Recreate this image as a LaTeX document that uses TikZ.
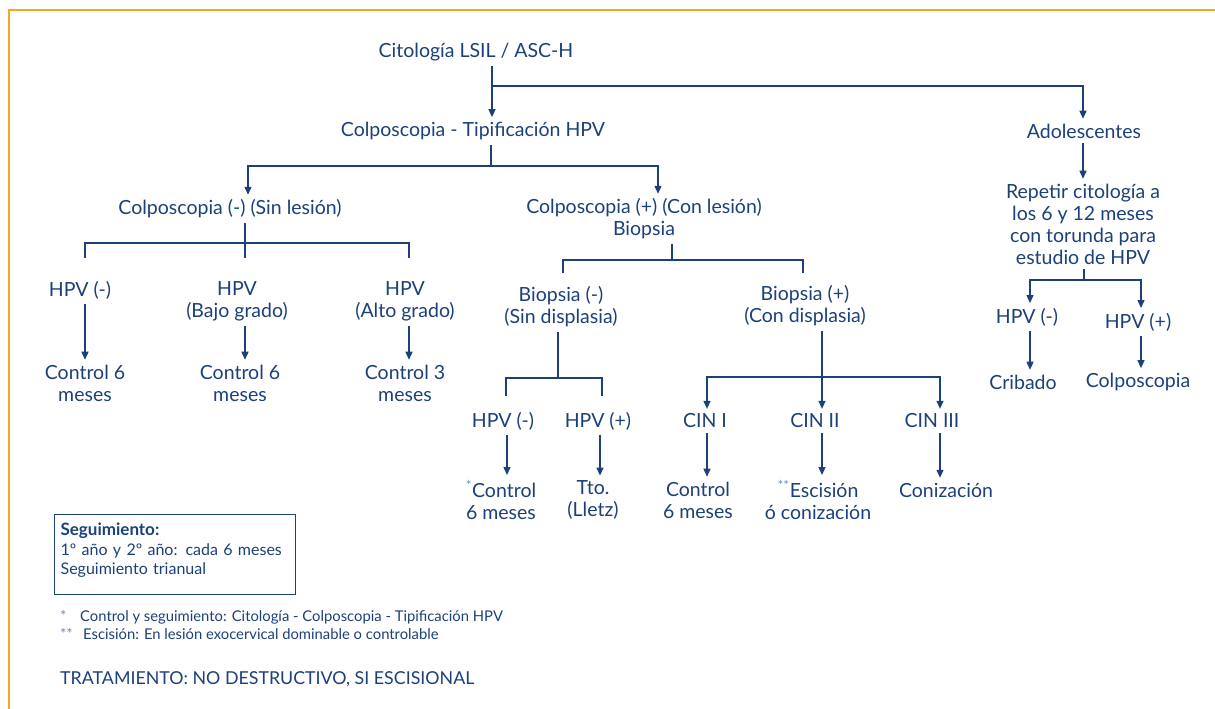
\documentclass[tikz,border=0pt]{standalone}
\usepackage{fontspec}
\setmainfont{Lato}
\usetikzlibrary{arrows.meta}
\definecolor{navy}{RGB}{28,64,122}
\definecolor{starblue}{RGB}{105,140,198}
\definecolor{frameorange}{RGB}{246,164,42}
\newcommand{\mainsz}{\fontsize{19.5}{22}\selectfont}
\newcommand{\boxsz}{\fontsize{16}{19.5}\selectfont}
\newcommand{\notesz}{\fontsize{14.8}{17}\selectfont}
\newcommand{\tratsz}{\fontsize{17.8}{20}\selectfont}
\newcommand{\starmark}[1]{\textsuperscript{\textcolor{starblue}{#1}}}
\begin{document}
\begin{tikzpicture}[x=1pt,y=-1pt,
  txt/.style={font=\mainsz, text=navy, align=center, inner sep=0pt, outer ysep=5pt},
  ln/.style={draw=navy, line width=1.3pt},
  arr/.style={ln, -{Triangle[length=8pt,width=7pt]}}]
\useasboundingbox (0,0) rectangle (1215,709);
% orange frame
\draw[frameorange, line width=1.6pt] (1215,10) -- (9,10) -- (9,709);

% nodes
\node[txt] (cito)  at (476,52)  {Citología LSIL / ASC-H};
\node[txt] (colpo) at (473,131) {Colposcopia - Tipificación HPV};
\node[txt] (adol)  at (1084,131) {Adolescentes};
\node[txt] (cneg)  at (230,209) {Colposcopia (-) (Sin lesión)};
\node[txt] (cpos)  at (644,219) {Colposcopia (+) (Con lesión)\\Biopsia};
\node[txt] (hneg)  at (80,290)  {HPV (-)};
\node[txt] (hbajo) at (237,301) {HPV\\(Bajo grado)};
\node[txt] (halto) at (405,301) {HPV\\(Alto grado)};
\node[txt] (ctl1)  at (85,383)  {Control 6\\meses};
\node[txt] (ctl2)  at (240,383) {Control 6\\meses};
\node[txt] (ctl3)  at (405,383) {Control 3\\meses};
\node[txt] (bneg)  at (561,307) {Biopsia (-)\\(Sin displasia)};
\node[txt] (bpos)  at (805,306) {Biopsia (+)\\(Con displasia)};
\node[txt] (h2neg) at (503,421) {HPV (-)};
\node[txt] (h2pos) at (598,421) {HPV (+)};
\node[txt] (cin1)  at (705,421) {CIN I};
\node[txt] (cin2)  at (815,421) {CIN II};
\node[txt] (cin3)  at (932,421) {CIN III};
\node[txt] (r1)    at (501,500) {\starmark{*}Control\\6 meses};
\node[txt] (r2)    at (593,500) {Tto.\\(Lletz)};
\node[txt] (r3)    at (698,500) {Control\\6 meses};
\node[txt] (r4)    at (818,500) {\starmark{**}Escisión\\ó conización};
\node[txt] (r5)    at (946,490) {Conización};
\node[txt] (rep)   at (1083,224) {Repetir citología a\\los 6 y 12 meses\\con torunda para\\estudio de HPV};
\node[txt] (ahneg) at (1027,317) {HPV (-)};
\node[txt] (ahpos) at (1138,322) {HPV (+)};
\node[txt] (crib)  at (1023,382) {Cribado};
\node[txt] (acolp) at (1138,382) {Colposcopia};

% column positions of the vertical connectors
\coordinate (x85)  at (85,0);
\coordinate (x248) at (248,0);
\coordinate (x409) at (409,0);
\coordinate (x507) at (507,0);
\coordinate (x600) at (600,0);
\coordinate (x658) at (658,0);
\coordinate (x707) at (707,0);
\coordinate (x940) at (940,0);
\coordinate (x1030) at (1030,0);
\coordinate (x1083) at (1083,0);
\coordinate (x1141) at (1141,0);

% junctions
\coordinate (j0) at (492,86);
\coordinate (j1) at (491,166);
\coordinate (j2) at (245,243);
\coordinate (j3) at (672,260);
\coordinate (j4) at (558,378);
\coordinate (j5) at (822,377);
\coordinate (j6) at (1084,280);
% open ends of the tee brackets
\coordinate (e2a) at (85,258);  \coordinate (e2b) at (409,258); \coordinate (e2c) at (245,258);
\coordinate (e3a) at (563,273); \coordinate (e3b) at (803,273);
\coordinate (e4a) at (506,396); \coordinate (e4b) at (602,396);

% top level
\draw[arr] (j0 |- cito.south) -- (j0 |- colpo.north);
\draw[arr] (j0) -| (x1083 |- adol.north);

% colposcopia split
\draw[ln] (j1 |- colpo.south) -- (j1);
\draw[arr] (j1) -| (x248 |- cneg.north);
\draw[arr] (j1) -| (x658 |- cpos.north);

% colposcopia (-)
\draw[ln] (j2 |- cneg.south) -- (e2c);
\draw[ln] (e2a) |- (j2) -| (e2b);
\draw[arr] (x85 |- hneg.south) -- (x85 |- ctl1.north);
\draw[arr] (j2 |- hbajo.south) -- (j2 |- ctl2.north);
\draw[arr] (x409 |- halto.south) -- (x409 |- ctl3.north);

% colposcopia (+)
\draw[ln] (j3 |- cpos.south) -- (j3);
\draw[ln] (e3a) |- (j3) -| (e3b);

% biopsia (-)
\draw[ln] (j4 |- bneg.south) -- (j4);
\draw[ln] (e4a) |- (j4) -| (e4b);
\draw[arr] (x507 |- h2neg.south) -- (x507 |- r1.north);
\draw[arr] (x600 |- h2pos.south) -- (x600 |- r2.north);

% biopsia (+)
\draw[arr] (j5 |- bpos.south) -- (j5 |- cin2.north);
\draw[arr] (j5) -| (x707 |- cin1.north);
\draw[arr] (j5) -| (x940 |- cin3.north);
\draw[arr] (x707 |- cin1.south) -- (x707 |- r3.north);
\draw[arr] (j5 |- cin2.south) -- (j5 |- r4.north);
\draw[arr] (x940 |- cin3.south) -- (x940 |- r5.north);

% adolescentes
\draw[arr] (x1083 |- adol.south) -- (x1083 |- rep.north);
\draw[ln] (j6 |- rep.south) -- (j6);
\draw[arr] (j6) -| (x1030 |- ahneg.north);
\draw[arr] (j6) -| (x1141 |- ahpos.north);
\draw[arr] (x1030 |- ahneg.south) -- (x1030 |- crib.north);
\draw[arr] (x1141 |- ahpos.south) -- (x1141 |- acolp.north);

% follow-up box
\node[draw=navy, line width=1.2pt, text=navy, font=\boxsz, align=left,
      anchor=north west, minimum width=241pt, minimum height=80pt,
      inner sep=6pt, text width=229pt] (seg) at (54,514)
  {{\fontsize{17}{19.5}\selectfont\textbf{Seguimiento:}}\\1º año y 2º año: cada 6 meses\\Seguimiento trianual\par\vspace*{8pt}};

% footnotes
\node[anchor=west, inner sep=0pt, font=\notesz, text=navy] (n1) at (60,617)
  {\makebox[20pt][l]{\textcolor{starblue}{*}}Control y seguimiento: Citología - Colposcopia - Tipificación HPV};
\node[anchor=west, inner sep=0pt, font=\notesz, text=navy] (n2) at (60,634)
  {\makebox[23pt][l]{\textcolor{starblue}{**}}Escisión: En lesión exocervical dominable o controlable};
\node[anchor=west, inner sep=0pt, font=\tratsz, text=navy] (trat) at (60,679)
  {TRATAMIENTO: NO DESTRUCTIVO, SI ESCISIONAL};
\end{tikzpicture}
\end{document}
